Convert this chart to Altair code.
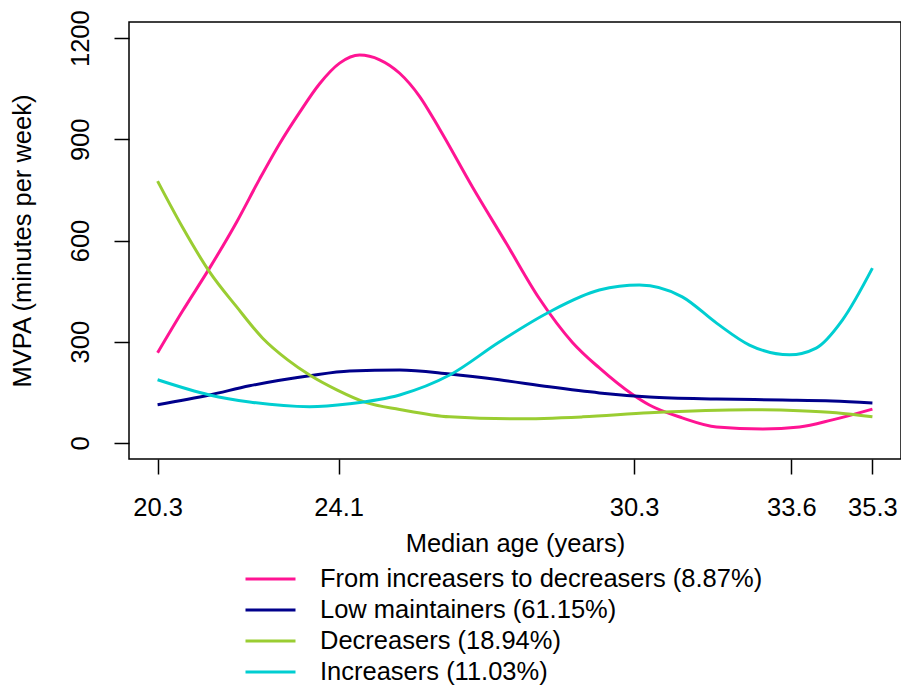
import altair as alt
import pandas as pd

# Trajectory groups, in legend order, with their line colours
group_names = [
    "From increasers to decreasers (8.87%)",
    "Low maintainers (61.15%)",
    "Decreasers (18.94%)",
    "Increasers (11.03%)",
]
group_colors = ["#FF1493", "#00008B", "#9ACD32", "#00CED1"]

# Axis ticks
age_ticks = [20.3, 24.1, 30.3, 33.6, 35.3]
mvpa_ticks = [0, 300, 600, 900, 1200]

# Fitted MVPA (minutes per week) against median age (years), per group
inc_dec_age = [20.3, 20.82, 21.39, 21.96, 22.44, 22.86, 23.28, 23.70, 24.12, 24.54,
               24.96, 25.38, 25.80, 26.22, 26.91, 27.62, 28.31, 29.01, 29.57, 30.26,
               30.62, 31.31, 32.03, 33.0, 33.77, 34.46, 35.3]
inc_dec_mvpa = [267, 390, 518, 655, 782, 887, 980, 1065, 1126, 1150,
                1136, 1096, 1027, 930, 758, 591, 428, 297, 222, 144,
                112, 74, 47, 41, 47, 68, 100]

low_age = [20.3, 21.39, 22.23, 23.49, 24.33, 25.38, 26.43, 27.47, 28.52, 29.57,
           30.62, 32.03, 33.41, 34.46, 35.3]
low_mvpa = [113, 142, 169, 199, 213, 216, 204, 187, 166, 148,
            136, 130, 127, 124, 118]

dec_age = [20.3, 20.82, 21.39, 21.96, 22.5, 23.03, 23.49, 24.06, 24.68, 25.38,
           26.43, 27.83, 29.22, 30.62, 32.72, 33.77, 34.54, 35.3]
dec_mvpa = [776, 640, 507, 403, 311, 246, 201, 157, 119, 99,
            77, 71, 77, 89, 98, 95, 89, 77]

inc_age = [20.3, 21.39, 22.23, 23.49, 24.33, 25.38, 26.43, 27.47, 28.52, 29.57,
           30.41, 31.31, 32.03, 32.72, 33.56, 34.12, 34.67, 35.3]
inc_mvpa = [187, 142, 121, 107, 116, 142, 201, 299, 388, 453,
            468, 433, 355, 290, 261, 281, 364, 518]

rows = []
for name, ages, vals in zip(group_names,
                            [inc_dec_age, low_age, dec_age, inc_age],
                            [inc_dec_mvpa, low_mvpa, dec_mvpa, inc_mvpa]):
    for a, v in zip(ages, vals):
        rows.append({"age": a, "mvpa": v, "group": name})
df = pd.DataFrame(rows)

FONT = "Liberation Sans"
FS = 25.5

W, H = 772, 437

chart = (
    alt.Chart(df)
    .mark_line(interpolate="monotone", strokeWidth=3)
    .encode(
        x=alt.X(
            "age:Q",
            scale=alt.Scale(domain=[19.7, 35.9], nice=False, zero=False),
            axis=alt.Axis(
                values=age_ticks,
                format=".1f",
                title="Median age (years)",
                titleX=W / 2,
                titleY=92,
                titleAlign="center",
                titleBaseline="alphabetic",
                labelBaseline="alphabetic",
                labelPadding=41,
            ),
        ),
        y=alt.Y(
            "mvpa:Q",
            scale=alt.Scale(domain=[-48, 1248], nice=False, zero=False),
            axis=alt.Axis(
                values=mvpa_ticks,
                format="d",
                title="MVPA (minutes per week)",
                titleAngle=270,
                titleX=-99,
                titleY=H / 2,
                titleAlign="center",
                titleBaseline="alphabetic",
                labelAngle=270,
                labelAlign="center",
                labelBaseline="alphabetic",
                labelPadding=26,
            ),
        ),
        color=alt.Color(
            "group:N",
            scale=alt.Scale(domain=group_names, range=group_colors),
            legend=alt.Legend(
                title=None,
                orient="none",
                legendX=127.5,
                legendY=543,
                # a horizontal line segment twice as wide as the symbol box
                symbolType="M-2,0L2,0",
                symbolSize=625,
                symbolStrokeWidth=3,
                labelOffset=35.5,
                rowPadding=3,
                padding=0,
                labelFontSize=FS,
                labelFont=FONT,
                labelColor="black",
                labelLimit=0,
            ),
        ),
    )
    .properties(
        width=W,
        height=H,
        padding={"left": 129, "top": 22, "right": 0, "bottom": 228},
        autosize=alt.AutoSizeParams(type="none"),
        background="white",
    )
    .configure_view(stroke="black", strokeWidth=1.5)
    .configure_axis(
        domain=False,
        grid=False,
        ticks=True,
        tickSize=15,
        tickWidth=1.5,
        tickColor="black",
        labelFont=FONT,
        labelFontSize=FS,
        labelColor="black",
        titleFont=FONT,
        titleFontSize=FS,
        titleFontWeight="normal",
        titleColor="black",
    )
)

chart.save("out.html", embed_options={"renderer": "svg", "actions": False})
